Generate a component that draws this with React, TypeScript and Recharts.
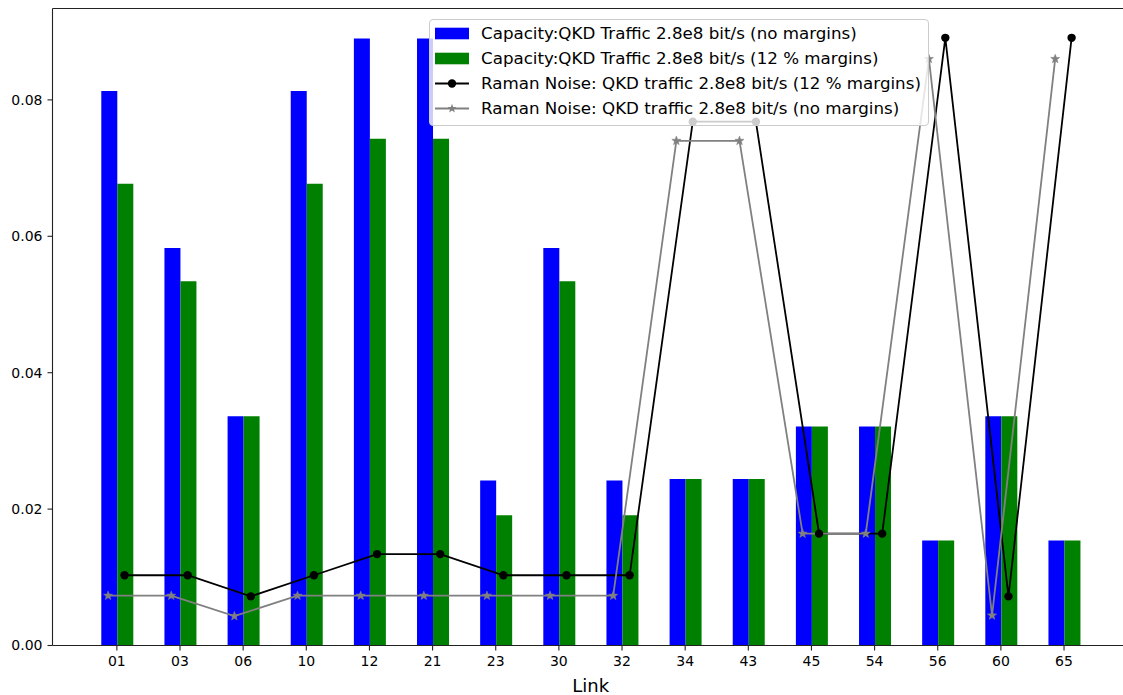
import React from 'react';
import { ComposedChart, Bar, Line, XAxis, YAxis, Legend, ReferenceLine } from 'recharts';

const links = ['01', '03', '06', '10', '12', '21', '23', '30', '32', '34', '43', '45', '54', '56', '60', '65'];
const capacityNoMargins = [0.0813, 0.0583, 0.0336, 0.0813, 0.089, 0.089, 0.0242, 0.0583, 0.0242, 0.0244, 0.0244, 0.0321, 0.0321, 0.0154, 0.0336, 0.0154];
const capacity12Margins = [0.0677, 0.0534, 0.0336, 0.0677, 0.0743, 0.0743, 0.0191, 0.0534, 0.0191, 0.0244, 0.0244, 0.0321, 0.0321, 0.0154, 0.0336, 0.0154];
const raman12Margins = [0.0103, 0.0103, 0.0072, 0.0103, 0.0134, 0.0134, 0.0103, 0.0103, 0.0103, 0.0768, 0.0768, 0.0164, 0.0164, 0.0891, 0.0072, 0.0891];
const ramanNoMargins = [0.0073, 0.0073, 0.0043, 0.0073, 0.0073, 0.0073, 0.0073, 0.0073, 0.0073, 0.074, 0.074, 0.0164, 0.0164, 0.086, 0.0044, 0.086];
const yTicks = [0, 0.02, 0.04, 0.06, 0.08];
const seriesNames = [
  'Capacity:QKD Traffic 2.8e8 bit/s (no margins)',
  'Capacity:QKD Traffic 2.8e8 bit/s (12 % margins)',
  'Raman Noise: QKD traffic 2.8e8 bit/s (12 % margins)',
  'Raman Noise: QKD traffic 2.8e8 bit/s (no margins)',
];

const Y_MAX = 0.0934;
const LINE_OFFSET = 0.13;
const X_MIN = -1.0105;
const X_MAX = 16.039;

const barData = links.map((link, i) => ({
  link,
  x: i,
  noMargins: capacityNoMargins[i],
  margins12: capacity12Margins[i],
}));
const blackData = links.map((link, i) => ({ x: i + LINE_OFFSET, v: raman12Margins[i] }));
const grayData = links.map((link, i) => ({ x: i - LINE_OFFSET, v: ramanNoMargins[i] }));

const FONT = '"DejaVu Sans", sans-serif';

function starPath(cx: number, cy: number, R: number, r: number) {
  let d = '';
  for (let k = 0; k < 10; k++) {
    const ang = -Math.PI / 2 + (k * Math.PI) / 5;
    const rad = k % 2 === 0 ? R : r;
    const px = cx + rad * Math.cos(ang);
    const py = cy + rad * Math.sin(ang);
    d += (k === 0 ? 'M' : 'L') + px.toFixed(2) + ',' + py.toFixed(2);
  }
  return d + 'Z';
}

const StarDot = (props: any) => {
  const { cx, cy, index } = props;
  if (cx == null || cy == null) return <g key={'s' + index} />;
  return <path key={'s' + index} d={starPath(cx, cy, 4.8, 2)} fill="#808080" stroke="#808080" strokeWidth={0.5} />;
};

const rowCenters = [14, 39, 64, 89];

const LegendBox = () => (
  <div
    style={{
      position: 'relative',
      boxSizing: 'border-box',
      width: 500,
      height: 107,
      border: '1px solid #cccccc',
      borderRadius: 4,
      background: 'rgba(255,255,255,0.8)',
      fontFamily: FONT,
      fontSize: 16.7,
      color: '#000',
    }}
  >
    {seriesNames.map((name, i) => (
      <div
        key={name}
        style={{
          position: 'absolute',
          left: 0,
          top: rowCenters[i] - 12.5 - 1,
          height: 25,
          display: 'flex',
          alignItems: 'center',
          whiteSpace: 'nowrap',
        }}
      >
        <svg width={34} height={25} style={{ marginLeft: 5, marginRight: 12, display: 'block' }}>
          {i === 0 && <rect x={0} y={6.7} width={34} height={11.6} fill="#0000ff" />}
          {i === 1 && <rect x={0} y={6.7} width={34} height={11.6} fill="#008000" />}
          {i === 2 && (
            <g>
              <line x1={0} y1={12.5} x2={34} y2={12.5} stroke="#000" strokeWidth={2} />
              <circle cx={17} cy={12.5} r={4.2} fill="#000" />
            </g>
          )}
          {i === 3 && (
            <g>
              <line x1={0} y1={12.5} x2={34} y2={12.5} stroke="#808080" strokeWidth={2} />
              <path d={starPath(17, 12.5, 4.8, 2)} fill="#808080" />
            </g>
          )}
        </svg>
        <span style={{ lineHeight: '25px' }}>{name}</span>
      </div>
    ))}
  </div>
);

export default function App() {
  return (
    <div
      style={{
        position: 'fixed',
        left: 0,
        top: 0,
        width: 1123,
        height: 695,
        overflow: 'hidden',
        background: '#fff',
        fontFamily: FONT,
      }}
    >
      <ComposedChart
        width={1140}
        height={695}
        data={barData}
        margin={{ top: 8.5, right: 11, left: 0.5, bottom: 0 }}
        barGap={0}
      >
        <XAxis
          xAxisId="cat"
          dataKey="link"
          type="category"
          padding={{ left: 32.8, right: 33.4 }}
          height={49.5}
          interval={0}
          tickSize={5}
          tickMargin={6}
          stroke="#222"
          axisLine={{ stroke: '#222', strokeWidth: 1.1 }}
          tickLine={{ stroke: '#222', strokeWidth: 1.1 }}
          tick={{ fontSize: 14, fill: '#000', fontFamily: FONT }}
          label={{ value: 'Link', position: 'insideBottom', offset: 3, fontSize: 18, fill: '#000', fontFamily: FONT }}
        />
        <XAxis xAxisId="num" type="number" dataKey="x" domain={[X_MIN, X_MAX]} allowDataOverflow hide />
        <YAxis
          width={52}
          type="number"
          domain={[0, Y_MAX]}
          ticks={yTicks}
          allowDataOverflow
          tickFormatter={(v: number) => v.toFixed(2)}
          tickSize={5}
          tickMargin={5}
          axisLine={{ stroke: '#222', strokeWidth: 1.1 }}
          tickLine={{ stroke: '#222', strokeWidth: 1.1 }}
          tick={{ fontSize: 14, fill: '#000', fontFamily: FONT }}
        />
        <ReferenceLine xAxisId="cat" y={Y_MAX} stroke="#222" strokeWidth={1.1} />
        <Bar xAxisId="cat" dataKey="noMargins" name={seriesNames[0]} fill="#0000ff" barSize={16} isAnimationActive={false} />
        <Bar xAxisId="cat" dataKey="margins12" name={seriesNames[1]} fill="#008000" barSize={16} isAnimationActive={false} />
        <Line
          xAxisId="num"
          data={blackData}
          dataKey="v"
          name={seriesNames[2]}
          type="linear"
          stroke="#000"
          strokeWidth={1.8}
          dot={{ r: 4.2, fill: '#000', stroke: '#000', strokeWidth: 0 }}
          activeDot={false}
          isAnimationActive={false}
        />
        <Line
          xAxisId="num"
          data={grayData}
          dataKey="v"
          name={seriesNames[3]}
          type="linear"
          stroke="#808080"
          strokeWidth={1.8}
          dot={StarDot}
          activeDot={false}
          isAnimationActive={false}
        />
        <Legend
          layout="vertical"
          align="center"
          verticalAlign="middle"
          width={500}
          height={107}
          wrapperStyle={{ position: 'absolute', left: 429, top: 19, width: 500, height: 107 }}
          content={() => <LegendBox />}
        />
      </ComposedChart>
    </div>
  );
}
